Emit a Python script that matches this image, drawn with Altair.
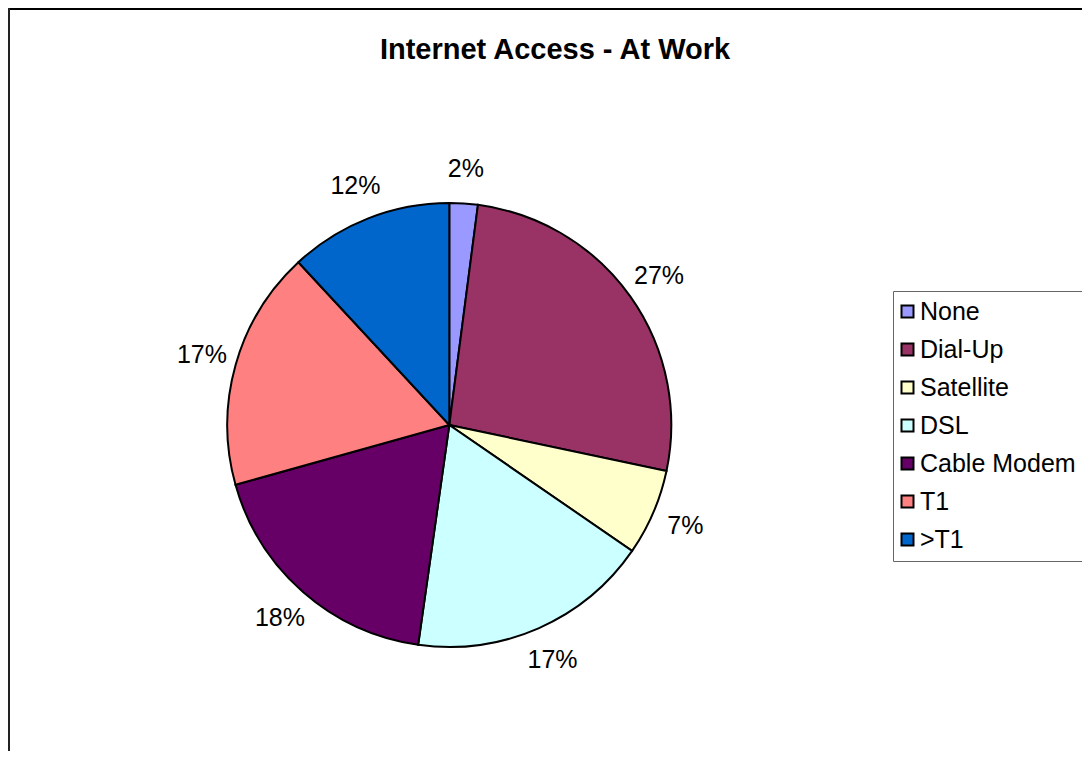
import altair as alt
import pandas as pd

categories = ["None", "Dial-Up", "Satellite", "DSL", "Cable Modem", "T1", ">T1"]
shares = [2.06, 26.26, 6.28, 17.64, 18.42, 17.44, 11.90]
labels = ["2%", "27%", "7%", "17%", "18%", "17%", "12%"]
colors = ["#9999FF", "#993366", "#FFFFCC", "#CCFFFF", "#660066", "#FF8080", "#0066CC"]
title_text = "Internet Access - At Work"

df = pd.DataFrame({
    "category": categories,
    "share": shares,
    "label": labels,
    "idx": list(range(len(categories))),
})

FONT = "Liberation Sans"
W, H = 1074, 743
CX, CY, R = 441.3, 417, 222

base = alt.Chart(df).encode(
    theta=alt.Theta("share:Q", stack=True),
    order=alt.Order("idx:Q"),
)

pie = base.mark_arc(stroke="black", strokeWidth=2, radius=R).encode(
    x=alt.value(CX),
    y=alt.value(CY),
    color=alt.Color(
        "category:N",
        scale=alt.Scale(domain=categories, range=colors),
        sort=categories,
        legend=alt.Legend(
            title=None,
            orient="none",
            legendX=885,
            legendY=283,
            strokeColor="#666666",
            padding=8,
            symbolType="square",
            symbolSize=144,
            symbolStrokeColor="black",
            symbolStrokeWidth=2,
            symbolOffset=-6,
            labelFont=FONT,
            labelFontSize=25,
            labelColor="black",
            labelOffset=0,
            rowPadding=12,
            labelLimit=300,
        ),
    ),
)

text = base.mark_text(
    radius=257, font=FONT, fontSize=25, color="black", align="center", baseline="middle"
).encode(
    x=alt.value(CX),
    y=alt.value(CY),
    text="label:N",
)

title = alt.Chart(pd.DataFrame({"t": [title_text]})).mark_text(
    font=FONT, fontSize=29, fontWeight="bold", color="black", align="center", baseline="alphabetic"
).encode(x=alt.value(547), y=alt.value(51), text="t:N")

frame_df = pd.DataFrame({"a": [0]})
top_rule = alt.Chart(frame_df).mark_rule(color="black", strokeWidth=2).encode(
    x=alt.value(0), x2=alt.value(W), y=alt.value(1)
)
left_rule = alt.Chart(frame_df).mark_rule(color="#222222", strokeWidth=2).encode(
    x=alt.value(1), y=alt.value(0), y2=alt.value(H)
)

chart = alt.layer(pie, text, title, top_rule, left_rule).properties(
    width=W,
    height=H,
    padding=0,
    autosize=alt.AutoSizeParams(type="none"),
).configure_view(stroke=None)

chart.save("out.html", embed_options={"renderer": "svg", "actions": False})
